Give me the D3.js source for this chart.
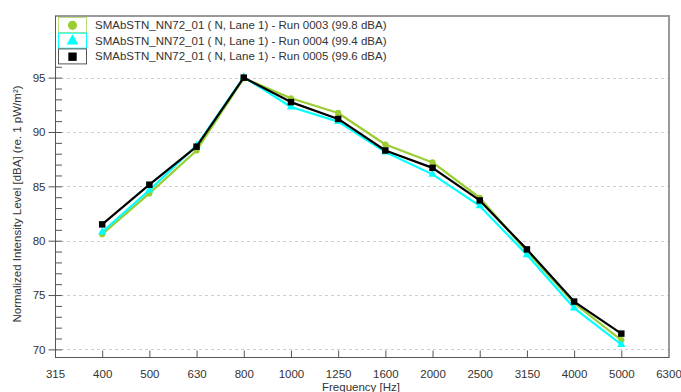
<!DOCTYPE html>
<html>
<head>
<meta charset="utf-8">
<script src="https://cdn.jsdelivr.net/npm/d3@7"></script>
<style>
  html, body { margin: 0; padding: 0; background: #fff; }
  svg { display: block; font-family: "Liberation Sans", Arial, sans-serif; }
</style>
</head>
<body>
<svg id="chart" width="681" height="392"></svg>
<script>
// One-third-octave band centre frequencies (Hz)
const bands = ["315", "400", "500", "630", "800", "1000", "1250", "1600", "2000", "2500", "3150", "4000", "5000", "6300"];
// Bands that carry measurements
const measuredBands = ["400", "500", "630", "800", "1000", "1250", "1600", "2000", "2500", "3150", "4000", "5000"];

// Normalized intensity levels, dBA re 1 pW/m²
const run0003 = [80.6, 84.35, 88.3, 94.95, 93.1, 91.75, 88.85, 87.2, 83.95, 79.0, 74.25, 70.85];
const run0004 = [80.8, 84.65, 88.75, 95.05, 92.3, 90.95, 88.15, 86.1, 83.2, 78.7, 73.8, 70.45];
const run0005 = [81.5, 85.15, 88.65, 95.0, 92.75, 91.2, 88.3, 86.7, 83.7, 79.2, 74.4, 71.45];

const seriesNames = [
  "SMAbSTN_NN72_01 ( N, Lane 1) - Run 0003 (99.8 dBA)",
  "SMAbSTN_NN72_01 ( N, Lane 1) - Run 0004 (99.4 dBA)",
  "SMAbSTN_NN72_01 ( N, Lane 1) - Run 0005 (99.6 dBA)"
];
const yMajorTicks = [70, 75, 80, 85, 90, 95];
const yMinorTicks = d3.range(70, 101, 1);

const series = [
  { name: seriesNames[0], values: run0003, color: "#9acd32", frame: "#b8e07a", symbol: d3.symbolCircle },
  { name: seriesNames[1], values: run0004, color: "#00ffff", frame: "#00ffff", symbol: d3.symbolTriangle },
  { name: seriesNames[2], values: run0005, color: "#000000", frame: "#555555", symbol: d3.symbolSquare }
];

const svg = d3.select("#chart");
const plotLeft = 55, plotRight = 668.5, plotTop = 16, plotBottom = 357;

const x = d3.scalePoint().domain(bands).range([plotLeft, plotRight]);
const y = d3.scaleLinear().domain([69.3, 100.67]).range([plotBottom, plotTop]);

const textColor = "#333";
const fontFamily = "'Liberation Sans', Arial, sans-serif";

// Horizontal dashed grid at the major levels
svg.append("g")
  .selectAll("line")
  .data(yMajorTicks)
  .join("line")
  .attr("x1", plotLeft).attr("x2", plotRight)
  .attr("y1", d => Math.round(y(d)) + 0.5).attr("y2", d => Math.round(y(d)) + 0.5)
  .attr("stroke", "#cfcfcf")
  .attr("stroke-dasharray", "3,3");

// Frame: top and right borders
svg.append("path")
  .attr("d", `M${plotLeft},${plotTop}H${plotRight + 0.5}V${plotBottom}`)
  .attr("fill", "none")
  .attr("stroke", "#999")
  .attr("stroke-width", 2);

// Y axis: minor ticks inside, major ticks outside with labels
const yMinor = d3.axisRight(y).tickValues(yMinorTicks).tickSize(7).tickFormat("");
svg.append("g")
  .attr("transform", `translate(${plotLeft},0)`)
  .call(yMinor)
  .call(g => g.select(".domain").remove())
  .call(g => g.selectAll("line").attr("stroke", "#555"));

const yAxis = d3.axisLeft(y).tickValues(yMajorTicks).tickSize(7).tickPadding(3).tickSizeOuter(0);
svg.append("g")
  .attr("transform", `translate(${plotLeft + 0.5},0)`)
  .call(yAxis)
  .call(g => g.select(".domain").attr("stroke", "#555").attr("d", `M0,${plotTop}V${plotBottom}`))
  .call(g => g.selectAll("line").attr("stroke", "#555"))
  .call(g => g.selectAll("text").attr("fill", textColor).attr("font-size", 11.5)
    .attr("font-family", fontFamily));

// X axis: ticks pointing up into the plot
const xAxis = d3.axisBottom(x).tickSize(0).tickPadding(12).tickSizeOuter(0);
const xg = svg.append("g")
  .attr("transform", `translate(0,${plotBottom + 0.5})`)
  .call(xAxis)
  .call(g => g.select(".domain").attr("stroke", "#555").attr("d", `M${plotLeft},0H${plotRight + 1}`))
  .call(g => g.selectAll("text").attr("fill", textColor).attr("font-size", 11.5)
    .attr("font-family", fontFamily));
xg.selectAll(".tick")
  .filter(d => d !== bands[0] && d !== bands[bands.length - 1])
  .append("line")
  .attr("y1", 0).attr("y2", -7)
  .attr("stroke", "#555");

// Series lines and markers
const line = d3.line()
  .x((d, i) => x(measuredBands[i]))
  .y(d => y(d));

series.forEach(s => {
  svg.append("path")
    .datum(s.values)
    .attr("d", line)
    .attr("fill", "none")
    .attr("stroke", s.color)
    .attr("stroke-width", 2.2)
    .attr("stroke-linejoin", "round");
  svg.append("g")
    .selectAll("path")
    .data(s.values)
    .join("path")
    .attr("transform", (d, i) => `translate(${x(measuredBands[i])},${y(d)})`)
    .attr("d", d3.symbol().type(s.symbol).size(s.symbol === d3.symbolSquare ? 42 : 30))
    .attr("fill", s.color);
});

// Legend in the top band of the plot
const legend = svg.append("g");
legend.append("rect")
  .attr("x", plotLeft + 1).attr("y", plotTop + 1)
  .attr("width", 360).attr("height", 48)
  .attr("fill", "#fff");
series.forEach((s, i) => {
  const ly = plotTop + 1.5 + i * 15.7;
  legend.append("rect")
    .attr("x", 58.5).attr("y", ly)
    .attr("width", 28).attr("height", 15)
    .attr("fill", "#fff")
    .attr("stroke", s.frame);
  legend.append("path")
    .attr("transform", `translate(72.5,${ly + 7.8})`)
    .attr("d", d3.symbol().type(s.symbol).size(s.symbol === d3.symbolSquare ? 70 : (s.symbol === d3.symbolCircle ? 66 : 60)))
    .attr("fill", s.color);
  legend.append("text")
    .attr("x", 95).attr("y", ly + 11.5)
    .attr("font-size", 11.5)
    .attr("fill", textColor)
    .text(s.name);
});

// Axis titles
svg.append("text")
  .attr("transform", `translate(21,204) rotate(-90)`)
  .attr("text-anchor", "middle")
  .attr("font-size", 11.5)
  .attr("fill", textColor)
  .text("Normalized Intensity Level [dBA] (re. 1 pW/m²)");

svg.append("text")
  .attr("x", 361).attr("y", 391)
  .attr("text-anchor", "middle")
  .attr("font-size", 11.5)
  .attr("fill", textColor)
  .text("Frequency [Hz]");
</script>
</body>
</html>
